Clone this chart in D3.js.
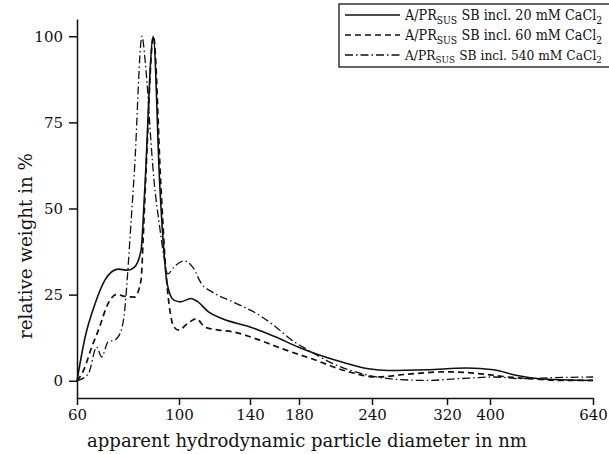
<!DOCTYPE html>
<html>
<head>
<meta charset="utf-8">
<script src="https://cdn.jsdelivr.net/npm/d3@7"></script>
<style>
	body { margin: 0; background: #fff; }
	svg { display: block; }
	text { font-family: "DejaVu Serif", serif; fill: #111; }
</style>
</head>
<body>
<script>
// tick labels
var xTicks = [60, 100, 140, 180, 240, 320, 400, 640]
var yTicks = [0, 25, 50, 75, 100]

// A/PR_SUS SB incl. 20 mM CaCl2
var size20 = [60, 62.5, 65.7, 69.0, 73.7, 77.4, 80.0, 82.7, 84.2, 87.9, 90.8, 92.8, 94.3, 97.5, 100.7, 105.8, 109.4, 115.0, 122.9, 140, 159.8, 179.2, 191.7, 212.4, 236.6, 255.2, 296.4, 354.1, 406.9, 449.9, 480.7, 531.9, 640]
var weight20 = [0, 12.7, 22.4, 29.2, 32.4, 32.1, 33, 37.9, 55, 100, 57, 36.9, 28, 23.4, 22.9, 23.9, 22.9, 20, 18, 15.6, 12.7, 9.8, 7.9, 5.5, 3.5, 3.0, 3.2, 3.7, 3.2, 1.6, 0.9, 0.35, 0.1]

// 60 mM
var size60 = [60, 62.0, 64.6, 66.8, 70.1, 73.1, 76.2, 80.0, 82.7, 83.6, 84.8, 88.0, 91.3, 93.6, 95.1, 97.5, 99.9, 104.1, 108.5, 113.1, 120.8, 129.0, 147.1, 165.1, 189.2, 219, 244, 275.1, 320, 376.3, 434.9, 480.7, 550, 640]
var weight60 = [0, 3, 9.8, 14.7, 22.4, 25.1, 24.5, 24.3, 29.2, 41.7, 61, 100, 57, 32, 22.4, 15.6, 14.7, 16.6, 18, 15.6, 14.7, 14.2, 11.8, 9.3, 6.4, 2.6, 1.1, 1.9, 2.6, 2.1, 1.1, 0.6, 0.1, 0.1]

// 540 mM
var size540 = [60, 63.5, 66.2, 67.9, 70.1, 72.5, 74.9, 76.2, 77.4, 78.7, 80.0, 83.1, 84.3, 85.5, 86.9, 88.3, 90.5, 92.5, 94.5, 97.5, 102.4, 106.7, 111.2, 116.9, 129.0, 147.1, 159.8, 173.4, 186.7, 202.8, 236.6, 267, 296.7, 339.9, 406.9, 465.2, 531.9, 640]
var weight540 = [0, 2, 9.8, 6.9, 11.3, 11.8, 14.7, 20.5, 32, 46.6, 61, 100, 93.6, 83.8, 69.3, 57.7, 46, 37, 31, 33, 34.8, 33, 28.2, 25.8, 22.9, 19, 15.6, 11.8, 8.9, 5.5, 1.6, 0.35, 0.1, 0.6, 1.1, 0.6, 0.9, 1.1]

var concentrations = ['20', '60', '540']

var series = [
	{ conc: concentrations[0], x: size20, y: weight20, dash: null, width: 1.6 },
	{ conc: concentrations[1], x: size60, y: weight60, dash: '6,4', width: 1.7 },
	{ conc: concentrations[2], x: size540, y: weight540, dash: '8,3,1.5,3', width: 1.3 }
]

var width = 609,
	height = 454

var svg = d3.select('body').append('svg')
	.attr('width', width)
	.attr('height', height)

// the instrument's size axis is not evenly logarithmic, so it is piecewise
var x = d3.scaleLog()
	.domain(xTicks)
	.range([77, 179, 250, 299, 372, 447, 490, 593])

var y = d3.scaleLinear()
	.domain([-5, 105])
	.range([398, 19])

function fitWidth(sel, target) {
	var len = sel.node().getComputedTextLength()
	var fs = parseFloat(sel.attr('font-size'))
	sel.attr('font-size', fs * target / len)
}

// axes
svg.append('g')
	.attr('transform', 'translate(0,' + y(-5) + ')')
	.call(d3.axisBottom(x)
		.tickValues(xTicks)
		.tickFormat(d3.format('d'))
		.tickSize(7)
		.tickSizeOuter(0)
		.tickPadding(4))

svg.append('g')
	.attr('transform', 'translate(' + x(60) + ',0)')
	.call(d3.axisLeft(y)
		.tickValues(yTicks)
		.tickSize(8)
		.tickSizeOuter(0)
		.tickPadding(6))

svg.selectAll('.domain, .tick line')
	.attr('stroke', '#111')
	.attr('stroke-width', 1.5)

svg.selectAll('.tick text')
	.attr('font-family', '"DejaVu Serif", serif')
	.attr('font-size', 15)
	.attr('fill', '#111')

// curves
var line = d3.line()
	.x(d => x(d[0]))
	.y(d => y(d[1]))
	.curve(d3.curveMonotoneX)

series.forEach(function (s) {
	svg.append('path')
		.datum(s.x.map((v, i) => [v, s.y[i]]))
		.attr('d', line)
		.attr('fill', 'none')
		.attr('stroke', '#111')
		.attr('stroke-width', s.width)
		.attr('stroke-dasharray', s.dash)
		.attr('stroke-linejoin', 'round')
})

// axis titles
var xTitle = svg.append('text')
	.attr('x', 307)
	.attr('y', 447)
	.attr('text-anchor', 'middle')
	.attr('font-size', 20)
	.text('apparent hydrodynamic particle diameter in nm')
fitWidth(xTitle, 440)

var yTitle = svg.append('text')
	.attr('transform', 'translate(32,246) rotate(-90)')
	.attr('text-anchor', 'middle')
	.attr('font-size', 20)
	.text('relative weight in %')
fitWidth(yTitle, 186)

// LEGEND
var legend = svg.append('g')

legend.append('rect')
	.attr('x', 339)
	.attr('y', 4)
	.attr('width', 280)
	.attr('height', 63)
	.attr('fill', 'white')
	.attr('stroke', '#111')
	.attr('stroke-width', 1.3)

series.forEach(function (s, i) {
	var by = 20 + i * 20
	legend.append('line')
		.attr('x1', 345)
		.attr('x2', 400)
		.attr('y1', by - 5)
		.attr('y2', by - 5)
		.attr('stroke', '#111')
		.attr('stroke-width', s.width)
		.attr('stroke-dasharray', s.dash)

	var t = legend.append('text')
		.attr('x', 405)
		.attr('y', by)
		.attr('font-size', 15)
		.style('font-family', '"DejaVu Serif Condensed", "Liberation Serif", serif')
	t.append('tspan').text('A/PR')
	t.append('tspan').attr('font-size', '0.72em').attr('dy', '0.35em').text('SUS')
	t.append('tspan').attr('dy', '-0.25em').attr('dx', '0.3em').text('SB incl. ' + s.conc + ' mM CaCl')
	t.append('tspan').attr('font-size', '0.72em').attr('dy', '0.35em').text('2')
	fitWidth(t, 193)
})
</script>
</body>
</html>
